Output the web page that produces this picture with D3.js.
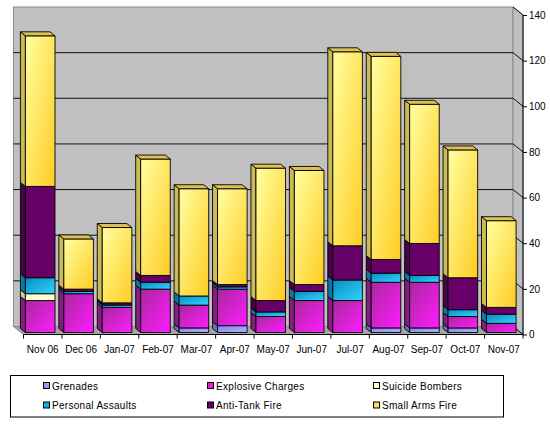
<!DOCTYPE html>
<html><head><meta charset="utf-8">
<script src="https://cdn.jsdelivr.net/npm/d3@7"></script>
<style>body{margin:0;background:#fff}svg{display:block}</style>
</head><body>
<svg id="c" width="550" height="427"></svg>
<script>
const categories = ["Nov 06","Dec 06","Jan-07","Feb-07","Mar-07","Apr-07","May-07","Jun-07","Jul-07","Aug-07","Sep-07","Oct-07","Nov-07"];
const grenades         = [0, 0, 0, 0, 2, 3, 0, 0, 0, 2, 2, 2, 0];
const explosiveCharges = [14,17,11,19,10,16, 7,14,14,20,20, 5, 4];
const suicideBombers   = [3, 0, 0, 0, 0, 0, 0, 0, 0, 0, 0, 0, 0];
const personalAssaults = [7, 1, 1, 3, 4, 1, 2, 4, 9, 4, 3, 3, 4];
const antiTankFire     = [40, 1, 1, 3, 0, 1, 5, 3,15, 6,14,14, 3];
const smallArmsFire    = [66,22,33,51,47,42,58,50,85,89,61,56,38];
const seriesNames = ["Grenades","Explosive Charges","Suicide Bombers","Personal Assaults","Anti-Tank Fire","Small Arms Fire"];
const yTicks = [0,20,40,60,80,100,120,140];

const seriesData = [grenades, explosiveCharges, suicideBombers, personalAssaults, antiTankFire, smallArmsFire];
const styles = [
  {a:"#8080ee", b:"#b4b4ff", side:"#7070c8", top:"#a0a0f0", key:"#9999ff"},
  {a:"#a8289c", b:"#ff1cff", side:"#8a1a86", top:"#c040c0", key:"#e020d8"},
  {a:"#ffffcc", b:"#ffffcc", side:"#cccc99", top:"#eeeebb", key:"#ffffcc"},
  {a:"#0a8cc0", b:"#30d4ff", side:"#0a78a8", top:"#40b8e0", key:"#10b0e8"},
  {a:"#660066", b:"#660066", side:"#4a004a", top:"#7a1a7a", key:"#660066"},
  {a:"#ffffa0", b:"#ffcc22", side:"#ccbb55", top:"#e0c050", key:"#ffdd55"}
];

const table = categories.map((c,i)=>{
  const o = {cat:c};
  seriesNames.forEach((s,k)=>o[s]=seriesData[k][i]);
  return o;
});
const stacked = d3.stack().keys(seriesNames)(table);

const svg = d3.select("#c");
const defs = svg.append("defs");
styles.forEach((s,k)=>{
  const g = defs.append("linearGradient").attr("id","g"+k)
    .attr("x1",0).attr("y1",0).attr("x2",1).attr("y2",1);
  g.append("stop").attr("offset","0%").attr("stop-color",s.a);
  g.append("stop").attr("offset","100%").attr("stop-color",s.b);
});

const yF = d3.scaleLinear().domain([0,140]).range([334.5,15]);
const xB = d3.scaleBand().domain(categories).range([23.5,523]).padding(0);
const WD = {dx:-10, dy:-8};
const depth = t => [WD.dx*t, WD.dy*t];
const f1 = depth(0.25), f2 = depth(0.75);
const bdx = f2[0]-f1[0], bdy = f2[1]-f1[1];
const bw = xB.bandwidth(), barW = bw*0.77;

const xL = xB.range()[0], xR = xB.range()[1];
const font = "Arial, 'Liberation Sans', sans-serif";

// walls
const wallTop = yF(140)+WD.dy, wallBot = yF(0)+WD.dy;
svg.append("rect").attr("x",xL+WD.dx).attr("y",wallTop).attr("width",xR-xL).attr("height",wallBot-wallTop)
  .attr("fill","#c0c0c0").attr("stroke","#8a8a8a");
svg.append("polygon").attr("points",[[xR+WD.dx,wallTop],[xR,yF(140)],[xR,yF(0)],[xR+WD.dx,wallBot]].join(" "))
  .attr("fill","#c0c0c0").attr("stroke","#8a8a8a");
svg.append("polygon").attr("points",[[xL+WD.dx,wallBot],[xR+WD.dx,wallBot],[xR,yF(0)],[xL,yF(0)]].join(" "))
  .attr("fill","#a4a4a4").attr("stroke","#8a8a8a");

// gridlines
yTicks.filter(v=>v>0 && v<140).forEach(v=>{
  svg.append("line").attr("x1",xL+WD.dx).attr("x2",xR+WD.dx).attr("y1",yF(v)+WD.dy).attr("y2",yF(v)+WD.dy)
    .attr("stroke","#111").attr("stroke-width",1);
});
yTicks.forEach(v=>{
  svg.append("line").attr("x1",xR+WD.dx).attr("y1",yF(v)+WD.dy).attr("x2",xR).attr("y2",yF(v))
    .attr("stroke","#111").attr("stroke-width",1);
});

// bars
const gBars = svg.append("g").attr("stroke","#000").attr("stroke-width",0.9).attr("stroke-linejoin","round");
categories.forEach((c,i)=>{
  const x0 = xB(c) + (bw-barW)/2 + f1[0];
  let topK = -1;
  stacked.forEach((layer,k)=>{
    const d = layer[i];
    if (d[1]-d[0] <= 0) return;
    topK = k;
    const ya = yF(d[1]) + f1[1], yb = yF(d[0]) + f1[1];
    gBars.append("polygon").attr("points",[[x0,yb],[x0,ya],[x0+bdx,ya+bdy],[x0+bdx,yb+bdy]].join(" "))
      .attr("fill",styles[k].side);
    gBars.append("rect").attr("x",x0).attr("y",ya).attr("width",barW).attr("height",yb-ya)
      .attr("fill","url(#g"+k+")");
  });
  if (topK>=0){
    const yt = yF(stacked[topK][i][1]) + f1[1];
    gBars.append("polygon").attr("points",[[x0,yt],[x0+barW,yt],[x0+barW+bdx,yt+bdy],[x0+bdx,yt+bdy]].join(" "))
      .attr("fill",styles[topK].top);
  }
});

// right axis
const ax = svg.append("g").attr("transform",`translate(${xR},0)`)
  .call(d3.axisRight(yF).tickValues(yTicks).tickSize(4).tickPadding(2));
ax.select(".domain").attr("stroke","#000").attr("d",`M0,${yF(140)}V${yF(0)}`);
ax.selectAll(".tick line").attr("stroke","#000");
ax.selectAll("text").attr("font-family",font).attr("font-size",10).attr("fill","#000");

// bottom axis
const bx = svg.append("g").attr("transform",`translate(0,${yF(0)})`)
  .call(d3.axisBottom(xB).tickSize(0).tickPadding(11));
bx.select(".domain").attr("stroke","#000").attr("d",`M${xL},0H${xR}`);
bx.selectAll("text").attr("font-family",font).attr("font-size",10).attr("fill","#000");
d3.range(categories.length+1).forEach(i=>{
  const x = xL + i*bw;
  svg.append("line").attr("x1",x).attr("x2",x).attr("y1",yF(0)).attr("y2",yF(0)+4).attr("stroke","#000");
});

// legend
svg.append("rect").attr("x",10.5).attr("y",375.5).attr("width",493).attr("height",41.5)
  .attr("fill","#fff").attr("stroke","#000");
const colX = [43,207,373], rowY = [386,405.5];
seriesNames.forEach((s,k)=>{
  const x = colX[k%3], y = rowY[Math.floor(k/3)];
  svg.append("rect").attr("x",x+0.5).attr("y",y-3.5).attr("width",6).attr("height",6)
    .attr("fill",styles[k].key).attr("stroke","#000").attr("stroke-width",1);
  svg.append("text").attr("x",x+9).attr("y",y).attr("dy","0.35em")
    .attr("font-family",font).attr("font-size",10).attr("letter-spacing","0.3px").text(s);
});
</script>
</body></html>
